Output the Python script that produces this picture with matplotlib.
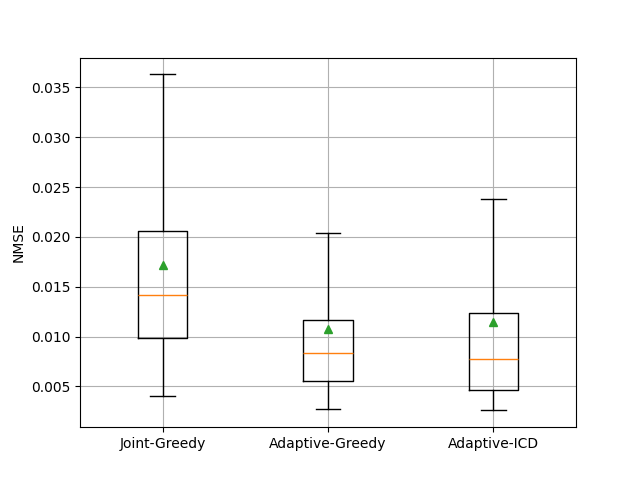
import matplotlib
matplotlib.use("Agg")
import matplotlib.pyplot as plt

labels = ["Joint-Greedy", "Adaptive-Greedy", "Adaptive-ICD"]
whislo = [0.00400, 0.00269, 0.00259]
q1 = [0.00982, 0.00550, 0.00460]
med = [0.01413, 0.00831, 0.00771]
q3 = [0.02055, 0.01162, 0.01232]
whishi = [0.03631, 0.02035, 0.02376]
means = [0.01714, 0.01072, 0.01142]

stats = []
for i in range(len(labels)):
    stats.append(dict(label=labels[i], whislo=whislo[i], q1=q1[i], med=med[i],
                      q3=q3[i], whishi=whishi[i], mean=means[i], fliers=[]))

fig, ax = plt.subplots(figsize=(6.4, 4.8), dpi=100)
ax.bxp(stats, showmeans=True, showfliers=False)
ax.set_ylabel("NMSE")
ax.grid(True)
fig.savefig("out.png")
